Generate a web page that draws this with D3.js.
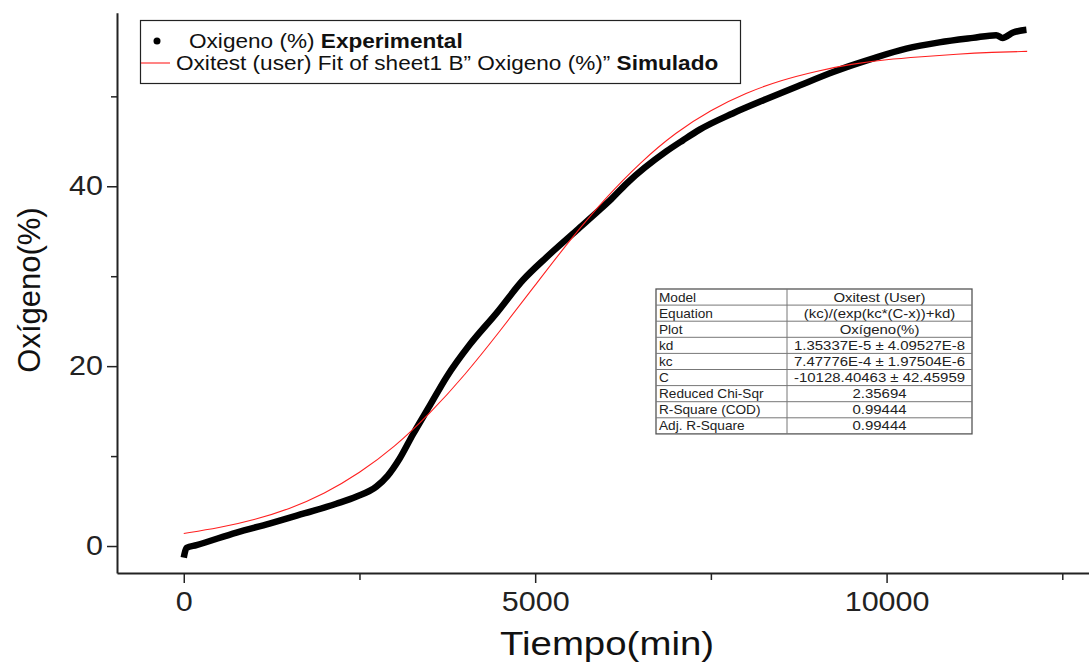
<!DOCTYPE html>
<html>
<head>
<meta charset="utf-8">
<script src="https://cdn.jsdelivr.net/npm/d3@7"></script>
<style>
  body { margin: 0; background: #fff; }
  svg { display: block; font-family: "Liberation Sans", Arial, sans-serif; }
</style>
</head>
<body>
<div id="chart"></div>
<script>
const width = 1089;
const height = 662;

// experimental points (time in min, oxygen in %)
const expTime = [0, 10, 40, 180, 750, 1220, 1700, 2170, 2460, 2740, 2900, 3070, 3260, 3500, 3740, 4070, 4450, 4830, 5160, 5590, 5920, 6060, 6300, 6870, 7100, 7340, 7810, 8290, 8760, 9240, 9450, 9800, 10280, 10750, 11230, 11560, 11650, 11800, 11990];
const expOxygen = [-1.3, -0.9, -0.2, 0.1, 1.5, 2.5, 3.6, 4.7, 5.5, 6.6, 7.8, 9.7, 12.4, 15.6, 18.8, 22.4, 25.9, 29.6, 32.1, 35.1, 37.4, 38.4, 40.3, 43.9, 45.1, 46.3, 48.1, 49.7, 51.2, 52.7, 53.3, 54.2, 55.3, 56.0, 56.5, 56.8, 56.5, 57.1, 57.4];

// fitted (simulated) curve
const fitTime = [0, 500, 1000, 1500, 2000, 2500, 3000, 3500, 4000, 4500, 5000, 5500, 6000, 6500, 7000, 7500, 8000, 8500, 9000, 9500, 10000, 10500, 11000, 11500, 12000];
const fitOxygen = [1.4, 2.0, 2.9, 4.1, 5.8, 8.1, 11.0, 14.7, 19.0, 23.9, 29.0, 34.1, 38.7, 42.7, 46.0, 48.5, 50.4, 51.8, 52.8, 53.6, 54.1, 54.4, 54.7, 54.9, 55.0];

const xMajorTicks = [0, 5000, 10000];
const xMinorTicks = [2500, 7500, 12500];
const yMajorTicks = [0, 20, 40];
const yMinorTicks = [10, 30, 50];

const tableLabels = ["Model", "Equation", "Plot", "kd", "kc", "C", "Reduced Chi-Sqr", "R-Square (COD)", "Adj. R-Square"];
const tableValues = ["Oxitest (User)", "(kc)/(exp(kc*(C-x))+kd)", "Oxígeno(%)", "1.35337E-5 \u00b1 4.09527E-8", "7.47776E-4 \u00b1 1.97504E-6", "-10128.40463 \u00b1 42.45959", "2.35694", "0.99444", "0.99444"];

// the source picture is a bit wider than tall, so text is stretched sideways
const stretch = 1.13;

const svg = d3.select("#chart")
  .append("svg")
  .attr("width", width)
  .attr("height", height);

const x = d3.scaleLinear().domain([-950, 12880]).range([117, 1089]);
const y = d3.scaleLinear().domain([-3, 59.3]).range([573, 12.7]);

// axes
const axisColor = "#222";

svg.append("g")
  .attr("transform", "translate(0,573)")
  .call(d3.axisBottom(x).tickValues(xMinorTicks).tickSize(7).tickSizeOuter(0).tickFormat(""))
  .call((g) => g.select(".domain").remove());

svg.append("g")
  .attr("transform", "translate(0,573)")
  .call(d3.axisBottom(x).tickValues(xMajorTicks).tickSize(10).tickSizeOuter(0).tickPadding(9).tickFormat(d3.format("d")));

svg.append("g")
  .attr("transform", "translate(117,0)")
  .call(d3.axisLeft(y).tickValues(yMinorTicks).tickSize(6).tickFormat(""))
  .call((g) => g.select(".domain").remove());

svg.append("g")
  .attr("transform", "translate(117,0)")
  .call(d3.axisLeft(y).tickValues(yMajorTicks).tickSize(10).tickSizeOuter(0).tickPadding(4).tickFormat(d3.format("d")));

svg.selectAll(".domain").attr("stroke", axisColor).attr("stroke-width", 2);
svg.selectAll(".tick line").attr("stroke", axisColor).attr("stroke-width", 1.5);
svg.selectAll(".tick text")
  .attr("font-family", "Liberation Sans, Arial, sans-serif")
  .attr("font-size", 27)
  .attr("fill", "#222")
  .each(function () {
    const t = d3.select(this);
    const tx = +t.attr("x") || 0;
    const ty = +t.attr("y") || 0;
    t.attr("x", null).attr("y", null)
      .attr("transform", `translate(${tx},${ty}) scale(${stretch},1)`);
  });

// axis titles
svg.append("text")
  .attr("transform", `translate(607,655) scale(${stretch},1)`)
  .attr("text-anchor", "middle")
  .attr("font-size", 34)
  .attr("fill", "#111")
  .text("Tiempo(min)");

svg.append("text")
  .attr("transform", "translate(40,290) rotate(-90)")
  .attr("text-anchor", "middle")
  .attr("font-size", 31)
  .attr("fill", "#111")
  .text("Oxígeno(%)");

// data
const expLine = d3.line()
  .x((d) => x(d[0]))
  .y((d) => y(d[1]))
  .curve(d3.curveMonotoneX);

svg.append("path")
  .datum(expTime.map((t, i) => [t, expOxygen[i]]))
  .attr("fill", "none")
  .attr("stroke", "#000")
  .attr("stroke-width", 6.5)
  .attr("stroke-linejoin", "round")
  .attr("d", expLine);

svg.append("path")
  .datum(fitTime.map((t, i) => [t, fitOxygen[i]]))
  .attr("fill", "none")
  .attr("stroke", "#ff2020")
  .attr("stroke-width", 1.1)
  .attr("d", d3.line().x((d) => x(d[0])).y((d) => y(d[1])).curve(d3.curveBasis));

// legend
const legend = svg.append("g");
legend.append("rect")
  .attr("x", 140.5).attr("y", 20.5)
  .attr("width", 600).attr("height", 63)
  .attr("fill", "#fff")
  .attr("stroke", "#222")
  .attr("stroke-width", 1.2);
legend.append("circle").attr("cx", 157).attr("cy", 41).attr("r", 3.5).attr("fill", "#000");
legend.append("line")
  .attr("x1", 141).attr("x2", 170).attr("y1", 63).attr("y2", 63)
  .attr("stroke", "#ff2020").attr("stroke-width", 1.1);

const leg1 = legend.append("text")
  .attr("transform", `translate(189,48) scale(${stretch},1)`)
  .attr("font-size", 20).attr("fill", "#111");
leg1.append("tspan").text("Oxigeno (%) ");
leg1.append("tspan").attr("font-weight", "bold").text("Experimental");

const leg2 = legend.append("text")
  .attr("transform", `translate(176,70) scale(${stretch},1)`)
  .attr("font-size", 20).attr("fill", "#111");
leg2.append("tspan").text("Oxitest (user) Fit of sheet1 B\u201d Oxigeno (%)\u201d ");
leg2.append("tspan").attr("font-weight", "bold").text("Simulado");

// parameter table
const tLeft = 656, tTop = 289, tRight = 972, tDivide = 787, rowH = 16.1;
const table = svg.append("g");
table.append("rect")
  .attr("x", tLeft).attr("y", tTop)
  .attr("width", tRight - tLeft).attr("height", rowH * tableLabels.length)
  .attr("fill", "#fff").attr("stroke", "#555").attr("stroke-width", 1.3);

const rows = table.selectAll("g.row")
  .data(tableLabels)
  .join("g")
  .attr("class", "row")
  .attr("transform", (d, i) => `translate(0,${tTop + i * rowH})`);

rows.filter((d, i) => i > 0).append("line")
  .attr("x1", tLeft).attr("x2", tRight)
  .attr("stroke", "#777").attr("stroke-width", 1);

rows.append("text")
  .attr("transform", `translate(${tLeft + 3},${rowH - 3.5}) scale(1.05,1)`)
  .attr("font-size", 13).attr("fill", "#222")
  .text((d) => d);

rows.append("text")
  .attr("transform", `translate(${(tDivide + tRight) / 2},${rowH - 3.5}) scale(1.15,1)`)
  .attr("text-anchor", "middle")
  .attr("font-size", 13).attr("fill", "#222")
  .text((d, i) => tableValues[i]);

table.append("line")
  .attr("x1", tDivide).attr("x2", tDivide)
  .attr("y1", tTop).attr("y2", tTop + rowH * tableLabels.length)
  .attr("stroke", "#777").attr("stroke-width", 1);
</script>
</body>
</html>
